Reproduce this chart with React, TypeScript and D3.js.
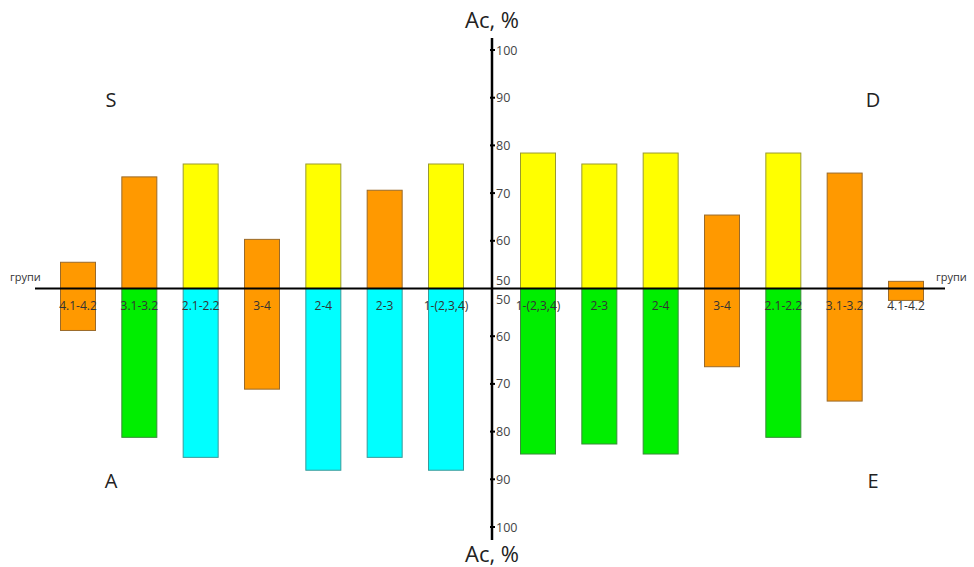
import React from "react";
import * as d3 from "d3";

const leftGroups = ["4.1-4.2", "3.1-3.2", "2.1-2.2", "3-4", "2-4", "2-3", "1-(2,3,4)"];
const rightGroups = ["1-(2,3,4)", "2-3", "2-4", "3-4", "2.1-2.2", "3.1-3.2", "4.1-4.2"];

const leftS = [55.5, 73.4, 76.1, 60.3, 76.1, 70.6, 76.1];
const leftA = [58.8, 81.2, 85.4, 71.1, 88.1, 85.4, 88.1];
const rightD = [78.4, 76.1, 78.4, 65.4, 78.4, 74.2, 51.5];
const rightE = [84.7, 82.6, 84.7, 66.4, 81.2, 73.6, 52.5];

const leftSColor = ["o", "o", "y", "o", "y", "o", "y"];
const leftAColor = ["o", "g", "c", "o", "c", "c", "c"];
const rightDColor = ["y", "y", "y", "o", "y", "o", "o"];
const rightEColor = ["g", "g", "g", "o", "g", "o", "o"];

const topTicks = [100, 90, 80, 70, 60, 50];
const bottomTicks = [50, 60, 70, 80, 90, 100];

const palette: Record<string, string> = {
  o: "#ff9900",
  y: "#ffff00",
  g: "#00ee00",
  c: "#00ffff",
};
const strokeCol: Record<string, string> = {
  o: "#9a6a2a",
  y: "#9a9a30",
  g: "#3a8a3a",
  c: "#3a9a9a",
};

const FONT = "'Open Sans', 'Noto Sans', sans-serif";

export default function App() {
  const W = 974;
  const H = 567;
  const baseY = 288.5;
  const xPos = d3.scaleLinear().domain([0, 13.5]).range([78, 906]);
  const axisX = xPos(6.75);
  const yTop = d3.scaleLinear().domain([50, 100]).range([baseY, 50]);
  const yBot = d3.scaleLinear().domain([50, 100]).range([baseY, 527]);
  const bw = 35;

  const bars: { p: number; v: number; top: boolean; c: string; k: string }[] = [];
  leftGroups.forEach((g, i) => {
    bars.push({ p: i, v: leftS[i], top: true, c: leftSColor[i], k: "ls" + i });
    bars.push({ p: i, v: leftA[i], top: false, c: leftAColor[i], k: "la" + i });
  });
  rightGroups.forEach((g, i) => {
    bars.push({ p: 7.5 + i, v: rightD[i], top: true, c: rightDColor[i], k: "rd" + i });
    bars.push({ p: 7.5 + i, v: rightE[i], top: false, c: rightEColor[i], k: "re" + i });
  });

  const labels = [
    ...leftGroups.map((g, i) => ({ p: i, t: g })),
    ...rightGroups.map((g, i) => ({ p: 7.5 + i, t: g })),
  ];

  return (
    <svg width={W} height={H} style={{ position: "absolute", left: 0, top: 0, background: "#fff" }}>
      {bars.map((b) => {
        const y0 = b.top ? yTop(b.v) : baseY;
        const y1 = b.top ? baseY : yBot(b.v);
        return (
          <rect
            key={b.k}
            x={xPos(b.p) - bw / 2}
            y={y0}
            width={bw}
            height={y1 - y0}
            fill={palette[b.c]}
            stroke={strokeCol[b.c]}
            strokeWidth={1}
          />
        );
      })}
      <line x1={35} x2={945} y1={baseY} y2={baseY} stroke="#000" strokeWidth={2} />
      <line x1={axisX} x2={axisX} y1={38} y2={540} stroke="#000" strokeWidth={2.5} />
      {topTicks.map((t) => (
        <g key={"tt" + t}>
          {t !== 50 && (
            <line x1={axisX - 2} x2={axisX + 3} y1={yTop(t)} y2={yTop(t)} stroke="#000" strokeWidth={2} />
          )}
          <text
            x={axisX + 4}
            y={t === 50 ? baseY - 8 : yTop(t)}
            dominantBaseline="central"
            fontSize={12.5}
            fontFamily={FONT}
            fill="#444"
          >
            {t}
          </text>
        </g>
      ))}
      {bottomTicks.map((t) => (
        <g key={"bt" + t}>
          {t !== 50 && (
            <line x1={axisX - 2} x2={axisX + 3} y1={yBot(t)} y2={yBot(t)} stroke="#000" strokeWidth={2} />
          )}
          <text
            x={axisX + 4}
            y={t === 50 ? baseY + 11 : yBot(t)}
            dominantBaseline="central"
            fontSize={12.5}
            fontFamily={FONT}
            fill="#444"
          >
            {t}
          </text>
        </g>
      ))}
      {labels.map((l, i) => (
        <text
          key={"lab" + i}
          x={xPos(l.p)}
          y={305}
          textAnchor="middle"
          dominantBaseline="central"
          fontSize={12}
          fontFamily={FONT}
          fill="#333"
        >
          {l.t}
        </text>
      ))}
      <text x={axisX} y={19} textAnchor="middle" dominantBaseline="central" fontSize={22} fontFamily={FONT} fill="#222">
        Ac, %
      </text>
      <text x={axisX} y={553} textAnchor="middle" dominantBaseline="central" fontSize={22} fontFamily={FONT} fill="#222">
        Ac, %
      </text>
      <text x={10} y={276} dominantBaseline="central" fontSize={11} fontFamily={FONT} fill="#333">
        групи
      </text>
      <text x={936} y={276} dominantBaseline="central" fontSize={11} fontFamily={FONT} fill="#333">
        групи
      </text>
      <text x={111} y={99} textAnchor="middle" dominantBaseline="central" fontSize={20} fontFamily={FONT} fill="#222">
        S
      </text>
      <text x={873} y={99} textAnchor="middle" dominantBaseline="central" fontSize={20} fontFamily={FONT} fill="#222">
        D
      </text>
      <text x={111} y={480} textAnchor="middle" dominantBaseline="central" fontSize={20} fontFamily={FONT} fill="#222">
        A
      </text>
      <text x={873} y={480} textAnchor="middle" dominantBaseline="central" fontSize={20} fontFamily={FONT} fill="#222">
        E
      </text>
    </svg>
  );
}
